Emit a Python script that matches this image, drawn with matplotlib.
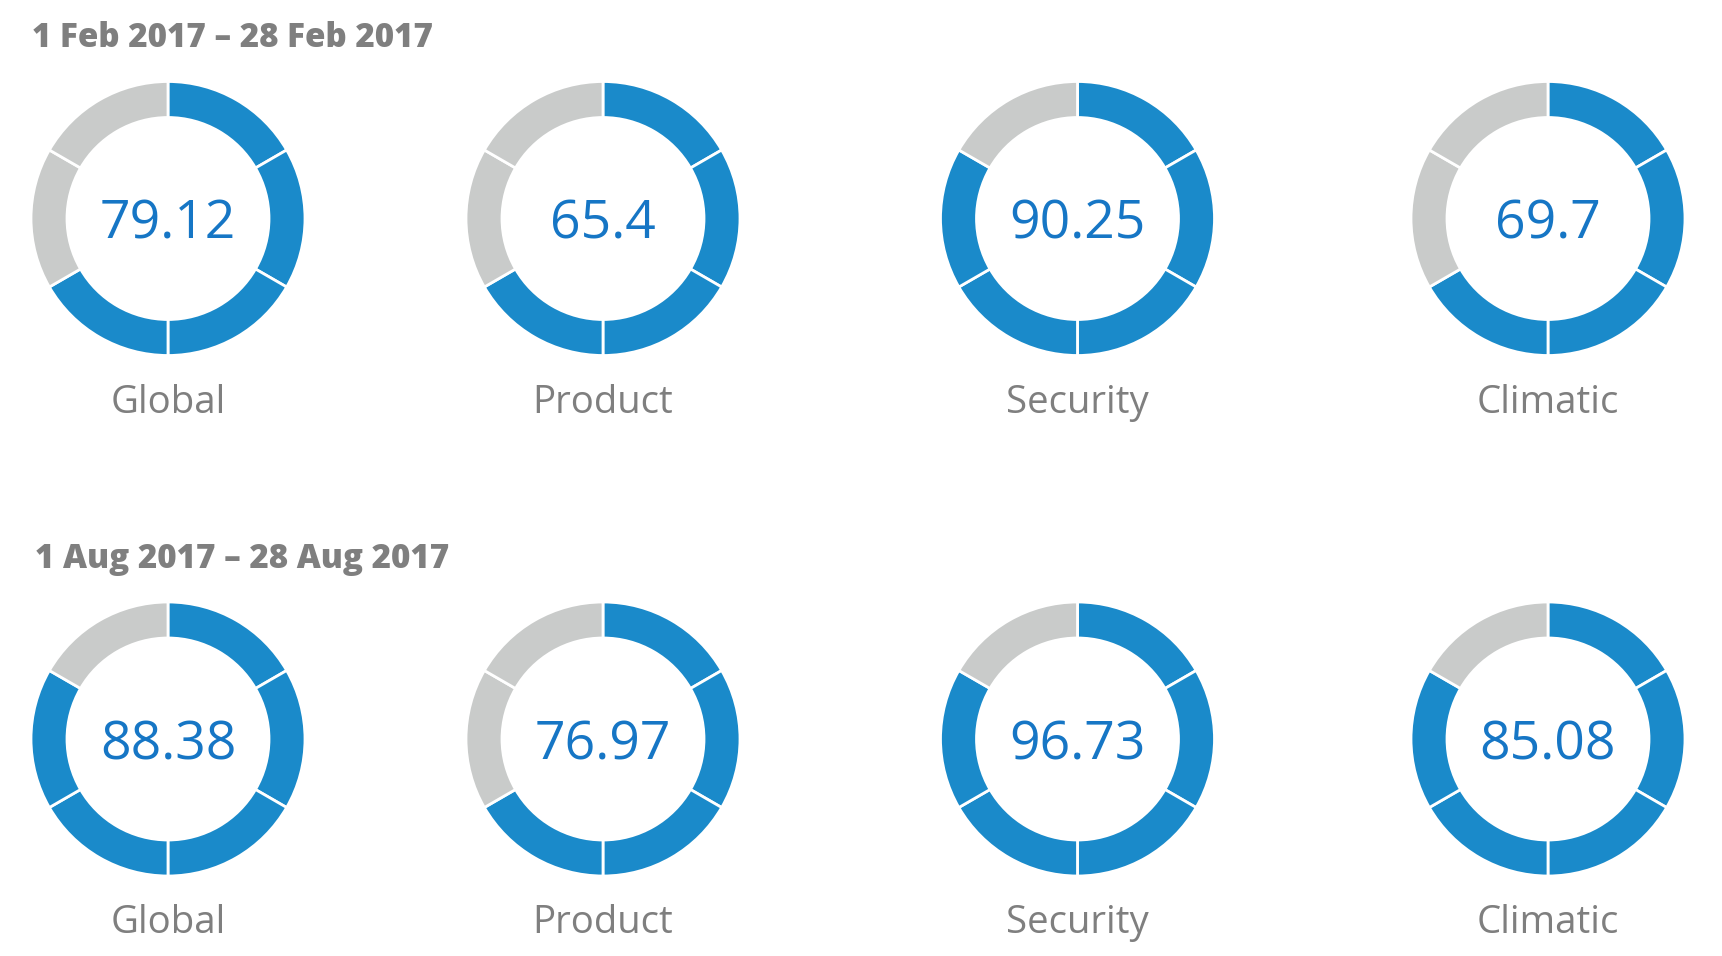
import matplotlib.pyplot as plt

# Score gauges, two periods
periods = ['1 Feb 2017 – 28 Feb 2017', '1 Aug 2017 – 28 Aug 2017']
categories = ['Global', 'Product', 'Security', 'Climatic']
scores = [['79.12', '65.4', '90.25', '69.7'],
          ['88.38', '76.97', '96.73', '85.08']]
# number of filled (blue) segments out of 6, as shown
filled = [[4, 4, 5, 4],
          [5, 4, 5, 5]]
n_seg = 6

blue = '#1a8aca'
grey = '#c9cbca'
num_blue = '#1676c5'
text_grey = '#7f7f7f'

plt.rcParams['font.family'] = ['Open Sans', 'DejaVu Sans']

W, H = 1722, 956
fig = plt.figure(figsize=(W / 100, H / 100), dpi=100)
ax = fig.add_axes([0, 0, 1, 1])

col_x = [168, 603, 1077.5, 1548]
row_y = [218.5, 739]
header_y = [47, 568]
header_x = [32, 35]
R = 137
ring = 36

for r in range(2):
    cy = H - row_y[r]
    ax.text(header_x[r], H - header_y[r], periods[r], fontsize=23.9,
            fontweight='heavy', color=text_grey, ha='left', va='baseline')
    for c in range(4):
        cx = col_x[c]
        cols = [blue] * filled[r][c] + [grey] * (n_seg - filled[r][c])
        ax.pie([1] * n_seg, colors=cols, startangle=90, counterclock=False,
               center=(cx, cy), radius=R,
               wedgeprops=dict(width=ring, edgecolor='white', linewidth=2))
        ax.text(cx, cy, scores[r][c], fontsize=38.5, color=num_blue,
                ha='center', va='center_baseline')
        ax.text(cx, cy - 194, categories[c], fontsize=27.6, color=text_grey,
                ha='center', va='baseline')

ax.set_xlim(0, W)
ax.set_ylim(0, H)
ax.set_aspect('equal')
ax.axis('off')

fig.savefig('out.png', dpi=100, facecolor='white')
